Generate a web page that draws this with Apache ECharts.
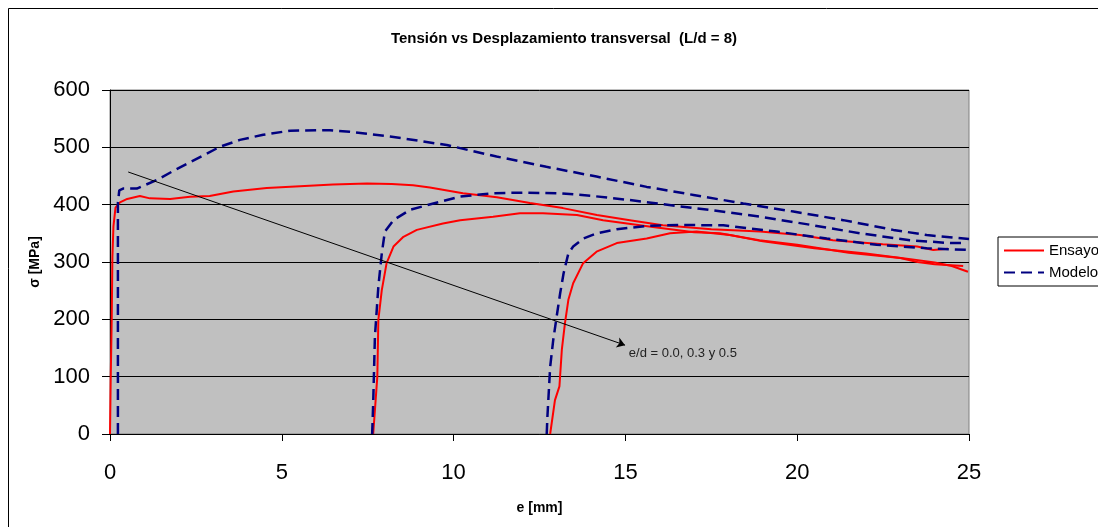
<!DOCTYPE html>
<html>
<head>
  <meta charset="utf-8">
  <title>Tensión vs Desplazamiento transversal</title>
  <script src="https://cdn.jsdelivr.net/npm/echarts/dist/echarts.min.js"></script>
  <style>
    html, body { margin: 0; padding: 0; background: #fff; }
    #main { width: 1098px; height: 527px; }
  </style>
</head>
<body>
  <div id="main"></div>
  <script>
  // [e (mm), sigma (MPa)]
  var ensayo00 = [[0,0],[0.02,94],[0.05,200],[0.07,309],[0.1,362],[0.16,395],[0.29,404],[0.5,410],[0.87,415],[1.16,411],[1.75,410],[2.33,414],[2.9,415],[3.59,423],[4.56,429],[5.53,432],[6.49,435],[7.48,437],[8.2,436],[8.82,434],[9.31,430],[10.27,420],[11.26,413],[12.22,403],[13.18,394],[14.17,382],[15.13,373],[16.09,364],[17.5,357],[18.92,353],[20.08,347],[21.04,338],[22.49,331],[23.49,327],[23.96,321],[24.39,323]];
  var ensayo03 = [[7.66,0],[7.72,50],[7.78,100],[7.81,199],[7.91,251],[8.05,298],[8.25,327],[8.54,344],[8.93,356],[9.69,367],[10.19,373],[11.15,379],[11.93,385],[12.6,385],[13.59,382],[14.35,373],[15.8,361],[17.0,352],[17.75,350],[18.9,338],[20.0,330],[21.5,316],[23.0,307],[23.5,300],[24.0,296],[24.83,293]];
  var ensayo05 = [[12.81,0],[12.95,59],[13.08,83],[13.15,147],[13.24,193],[13.34,234],[13.48,263],[13.77,298],[14.16,318],[14.75,333],[15.62,341],[16.3,350],[17.07,353],[18.04,347],[19.0,336],[20.5,324],[22.0,315],[23.3,305],[24.0,299],[24.5,293],[24.97,283]];
  var modelo00 = [[0.23,0],[0.23,403],[0.27,425],[0.38,428],[0.78,428],[1.36,443],[1.94,462],[2.52,480],[3.2,501],[3.78,513],[4.46,522],[5.24,529],[6.4,530],[6.98,527],[8.15,519],[9.8,504],[11.25,484],[12.7,466],[14.16,449],[15.62,431],[16.98,417],[18.43,402],[19.89,388],[21.34,373],[22.8,356],[23.77,347],[25.0,340]];
  var modelo03 = [[7.63,0],[7.66,54],[7.71,170],[7.81,257],[7.91,315],[8.0,353],[8.25,373],[8.73,391],[9.41,402],[10.19,414],[11.16,420],[12.03,421],[13.1,420],[14.07,415],[15.13,408],[16.59,397],[17.46,391],[18.92,379],[20.37,365],[21.83,350],[23.28,338],[24.45,333],[24.9,333]];
  var modelo05 = [[12.71,0],[12.73,30],[12.81,117],[12.9,164],[13.0,205],[13.1,245],[13.2,280],[13.34,315],[13.48,327],[13.78,341],[14.16,350],[14.75,357],[15.62,363],[16.59,364.5],[17.85,364],[19.4,353],[20.86,341],[22.31,330],[23.77,324],[25.0,321]];

  var flechaInicio = [0.53, 457];
  var flechaFin = [14.99, 155];
  var notaPos = [15.1, 140];
  var notaTexto = 'e/d = 0.0, 0.3 y 0.5';

  var rojo = { color: '#FF0000', width: 2 };
  var azul = { color: '#000080', width: 2.5, type: [11, 6] };

  function serie(nombre, datos, estilo) {
    return {
      name: nombre,
      type: 'line',
      data: datos,
      symbol: 'none',
      showSymbol: false,
      silent: true,
      animation: false,
      itemStyle: { color: estilo.color },
      lineStyle: estilo
    };
  }

  var series = [
    serie('Ensayo', ensayo00, rojo),
    serie('Ensayo', ensayo03, rojo),
    serie('Ensayo', ensayo05, rojo),
    serie('Modelo', modelo00, azul),
    serie('Modelo', modelo03, azul),
    serie('Modelo', modelo05, azul)
  ];
  // flecha de la anotacion
  series[0].markLine = {
    silent: true,
    animation: false,
    symbolSize: 8,
    label: { show: false },
    lineStyle: { color: '#000', width: 1, type: 'solid' },
    data: [[
      { coord: flechaInicio, symbol: 'none' },
      { coord: flechaFin, symbol: 'arrow' }
    ]]
  };

  var fuente = 'Arial, "Liberation Sans", sans-serif';
  var myChart = echarts.init(document.getElementById('main'));
  myChart.setOption({
    backgroundColor: '#fff',
    animation: false,
    title: {
      text: 'Tensión vs Desplazamiento transversal  (L/d = 8)',
      left: 559,
      top: 26,
      textAlign: 'center',
      textStyle: { fontFamily: fuente, fontSize: 15, fontWeight: 'bold', color: '#000' }
    },
    legend: {
      data: ['Ensayo', 'Modelo'],
      orient: 'vertical',
      left: 998,
      top: 237,
      padding: [6, 60, 6, 5],
      itemWidth: 40,
      itemHeight: 14,
      itemGap: 7,
      borderColor: '#000',
      borderWidth: 1,
      backgroundColor: '#fff',
      itemStyle: { opacity: 0 },
      textStyle: { fontFamily: fuente, fontSize: 15, color: '#000' }
    },
    grid: {
      left: 110, top: 90, right: 129, bottom: 93,
      show: true,
      backgroundColor: '#C0C0C0',
      borderColor: '#808080',
      borderWidth: 1
    },
    xAxis: {
      type: 'value',
      min: 0, max: 25, interval: 5,
      name: 'e [mm]',
      nameLocation: 'middle',
      nameGap: 67,
      nameTextStyle: { fontFamily: fuente, fontSize: 14, fontWeight: 'bold', color: '#000' },
      axisLine: { lineStyle: { color: '#000', width: 1 } },
      axisTick: { show: true, length: 7, lineStyle: { color: '#000' } },
      axisLabel: { margin: 28, fontFamily: fuente, fontSize: 22, color: '#000' },
      splitLine: { show: false }
    },
    yAxis: {
      type: 'value',
      min: 0, max: 600, interval: 100,
      name: 'σ [MPa]',
      nameLocation: 'middle',
      nameGap: 68,
      nameTextStyle: { fontFamily: fuente, fontSize: 14, fontWeight: 'bold', color: '#000' },
      axisLine: { show: true, lineStyle: { color: '#000', width: 1 } },
      axisTick: { show: true, length: 8, lineStyle: { color: '#000' } },
      axisLabel: { margin: 20, fontFamily: fuente, fontSize: 22, color: '#000' },
      splitLine: { show: true, lineStyle: { color: '#000', width: 1 } }
    },
    series: series
  });

  var p = myChart.convertToPixel({ gridIndex: 0 }, notaPos);
  myChart.setOption({
    graphic: [
      {
        type: 'rect',
        silent: true,
        shape: { x: 8.5, y: 8.5, width: 1300, height: 700 },
        style: { fill: 'none', stroke: '#000', lineWidth: 1 }
      },
      {
        type: 'text',
        silent: true,
        x: p[0], y: p[1],
        style: {
          text: notaTexto,
          fill: '#222',
          font: '13px ' + fuente,
          textAlign: 'left',
          textVerticalAlign: 'middle'
        }
      }
    ]
  });
  </script>
</body>
</html>
